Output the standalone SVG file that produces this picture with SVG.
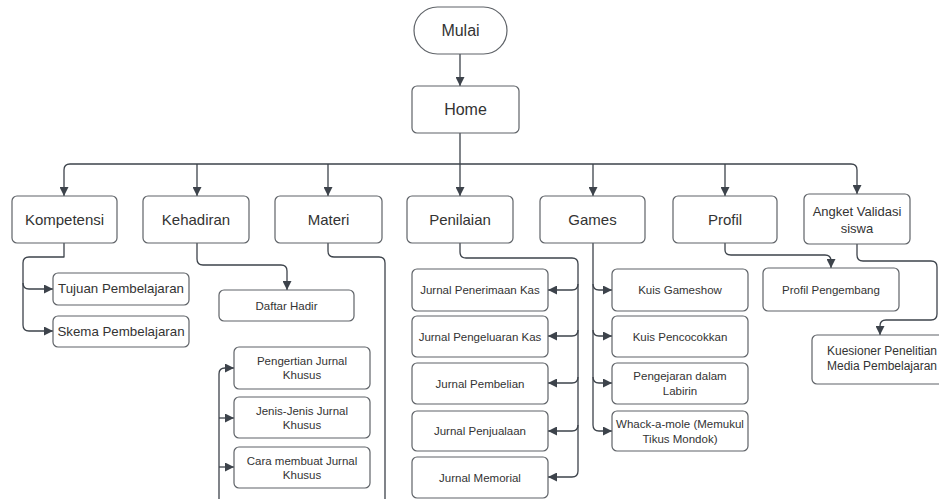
<svg xmlns="http://www.w3.org/2000/svg" width="939" height="499" viewBox="0 0 939 499">
<style>
.b{fill:#fff;stroke:#5f6368;stroke-width:1.2}
.t{font-family:"Liberation Sans",Arial,sans-serif;fill:#333;text-anchor:middle;dominant-baseline:central}
.l{font-size:15px}.m{font-size:13.3px}.s{font-size:11.5px}.h{font-size:16px}
.c{fill:none;stroke:#3d434b;stroke-width:1.3;stroke-linejoin:round}
</style>
<defs>
<marker id="a" viewBox="0 0 10 10" refX="10" refY="5" markerWidth="9" markerHeight="9" markerUnits="userSpaceOnUse" orient="auto"><path d="M0,0 L10,5 L0,10 z" fill="#3d434b"/></marker>
</defs>
<rect width="939" height="499" fill="#fff"/>
<g id="connectors">
<path class="c" d="M460,54 V86" marker-end="url(#a)"/>
<path class="c" d="M460,133 V196" marker-end="url(#a)"/>
<path class="c" d="M460,164 H70 Q64,164 64,170 V196" marker-end="url(#a)"/>
<path class="c" d="M197,164 V196" marker-end="url(#a)"/>
<path class="c" d="M328,164 V196" marker-end="url(#a)"/>
<path class="c" d="M460,164 H851 Q857,164 857,170 V194" marker-end="url(#a)"/>
<path class="c" d="M593,164 V196" marker-end="url(#a)"/>
<path class="c" d="M725,164 V196" marker-end="url(#a)"/>
<path class="c" d="M64,243 V257 H29 Q23,257 23,263 V283 Q23,289 29,289 H53" marker-end="url(#a)"/>
<path class="c" d="M23,283 V325 Q23,331 29,331 H53" marker-end="url(#a)"/>
<path class="c" d="M197,243 V259 Q197,265 203,265 H281 Q287,265 287,271 V290" marker-end="url(#a)"/>
<path class="c" d="M328,243 V251 Q328,257 334,257 H379 Q385,257 385,263 V499"/>
<path class="c" d="M219,499 V374 Q219,368 225,368 H234" marker-end="url(#a)"/>
<path class="c" d="M219,418 H234" marker-end="url(#a)"/>
<path class="c" d="M219,467 H234" marker-end="url(#a)"/>
<path class="c" d="M460,243 V252 Q460,258 466,258 H572 Q578,258 578,264 V471 Q578,477 572,477 H548" marker-end="url(#a)"/>
<path class="c" d="M578,284 Q578,290 572,290 H548" marker-end="url(#a)"/>
<path class="c" d="M578,330 Q578,336 572,336 H548" marker-end="url(#a)"/>
<path class="c" d="M578,377 Q578,383 572,383 H548" marker-end="url(#a)"/>
<path class="c" d="M578,425 Q578,431 572,431 H548" marker-end="url(#a)"/>
<path class="c" d="M593,243 V425 Q593,431 599,431 H612" marker-end="url(#a)"/>
<path class="c" d="M593,284 Q593,290 599,290 H612" marker-end="url(#a)"/>
<path class="c" d="M593,330 Q593,336 599,336 H612" marker-end="url(#a)"/>
<path class="c" d="M593,377 Q593,383 599,383 H612" marker-end="url(#a)"/>
<path class="c" d="M725,243 V250 Q725,255 731,255 H825 Q831,255 831,261 V268" marker-end="url(#a)"/>
<path class="c" d="M857,244 V255 Q857,261 863,261 H931 Q937,261 937,267 V314 Q937,320 931,320 H886 Q880,320 880,326 V335" marker-end="url(#a)"/>
</g>
<g id="mulai"><rect class="b" x="414" y="7" width="93" height="47" rx="23.5"/><text class="t h" x="460.5" y="30.5">Mulai</text></g>
<g id="home"><rect class="b" x="412" y="86" width="107" height="47" rx="5"/><text class="t h" x="465.5" y="109.5">Home</text></g>
<g id="kompetensi"><rect class="b" x="12" y="196" width="105" height="47" rx="5"/><text class="t l" x="64.5" y="219.5">Kompetensi</text></g>
<g id="kehadiran"><rect class="b" x="143" y="196" width="106" height="47" rx="5"/><text class="t l" x="196" y="219.5">Kehadiran</text></g>
<g id="materi"><rect class="b" x="275" y="196" width="107" height="47" rx="5"/><text class="t l" x="328.5" y="219.5">Materi</text></g>
<g id="penilaian"><rect class="b" x="407" y="196" width="106" height="47" rx="5"/><text class="t l" x="460" y="219.5">Penilaian</text></g>
<g id="games"><rect class="b" x="540" y="196" width="105" height="47" rx="5"/><text class="t l" x="592.5" y="219.5">Games</text></g>
<g id="profil"><rect class="b" x="673" y="196" width="104" height="47" rx="5"/><text class="t l" x="725" y="219.5">Profil</text></g>
<g id="angket"><rect class="b" x="804" y="194" width="106" height="50" rx="5"/><text class="t" style="font-size:13px" x="857" y="211">Angket Validasi</text><text class="t" style="font-size:13px" x="857" y="228">siswa</text></g>
<g id="tujuan"><rect class="b" x="53" y="273" width="136" height="32" rx="5"/><text class="t m" x="121" y="288.5">Tujuan Pembelajaran</text></g>
<g id="skema"><rect class="b" x="53" y="316" width="136" height="31" rx="5"/><text class="t m" x="121" y="331">Skema Pembelajaran</text></g>
<g id="daftar"><rect class="b" x="219" y="290" width="135" height="31" rx="5"/><text class="t s" x="286.5" y="305.5">Daftar Hadir</text></g>
<g id="pengertian"><rect class="b" x="234" y="347" width="136" height="42" rx="5"/><text class="t s" x="302" y="361">Pengertian Jurnal</text><text class="t s" x="302" y="375">Khusus</text></g>
<g id="jenis"><rect class="b" x="234" y="397" width="136" height="41" rx="5"/><text class="t s" x="302" y="410.5">Jenis-Jenis Jurnal</text><text class="t s" x="302" y="424.5">Khusus</text></g>
<g id="cara"><rect class="b" x="234" y="447" width="136" height="41" rx="5"/><text class="t s" x="302" y="460.5">Cara membuat Jurnal</text><text class="t s" x="302" y="474.5">Khusus</text></g>
<g id="penerimaan"><rect class="b" x="412" y="269" width="136" height="42" rx="5"/><text class="t s" x="480" y="290">Jurnal Penerimaan Kas</text></g>
<g id="pengeluaran"><rect class="b" x="412" y="316" width="136" height="41" rx="5"/><text class="t s" x="480" y="336.5">Jurnal Pengeluaran Kas</text></g>
<g id="pembelian"><rect class="b" x="412" y="363" width="136" height="41" rx="5"/><text class="t s" x="480" y="383.5">Jurnal Pembelian</text></g>
<g id="penjualaan"><rect class="b" x="412" y="411" width="136" height="40" rx="5"/><text class="t s" x="480" y="431">Jurnal Penjualaan</text></g>
<g id="memorial"><rect class="b" x="412" y="457" width="136" height="41" rx="5"/><text class="t s" x="480" y="477.5">Jurnal Memorial</text></g>
<g id="gameshow"><rect class="b" x="612" y="269" width="136" height="42" rx="5"/><text class="t s" x="680" y="290">Kuis Gameshow</text></g>
<g id="pencocokkan"><rect class="b" x="612" y="316" width="136" height="41" rx="5"/><text class="t s" x="680" y="336.5">Kuis Pencocokkan</text></g>
<g id="labirin"><rect class="b" x="612" y="363" width="136" height="41" rx="5"/><text class="t s" x="680" y="376">Pengejaran dalam</text><text class="t s" x="680" y="391">Labirin</text></g>
<g id="whack"><rect class="b" x="612" y="411" width="136" height="40" rx="5"/><text class="t s" x="680" y="424">Whack-a-mole (Memukul</text><text class="t s" x="680" y="439">Tikus Mondok)</text></g>
<g id="pengembang"><rect class="b" x="763" y="268" width="136" height="43" rx="5"/><text class="t s" x="831" y="289.5">Profil Pengembang</text></g>
<g id="kuesioner"><rect class="b" x="812" y="335" width="140" height="49" rx="5"/><text class="t" style="font-size:12px" x="882" y="351">Kuesioner Penelitian</text><text class="t" style="font-size:12px" x="882" y="366">Media Pembelajaran</text></g>
</svg>
